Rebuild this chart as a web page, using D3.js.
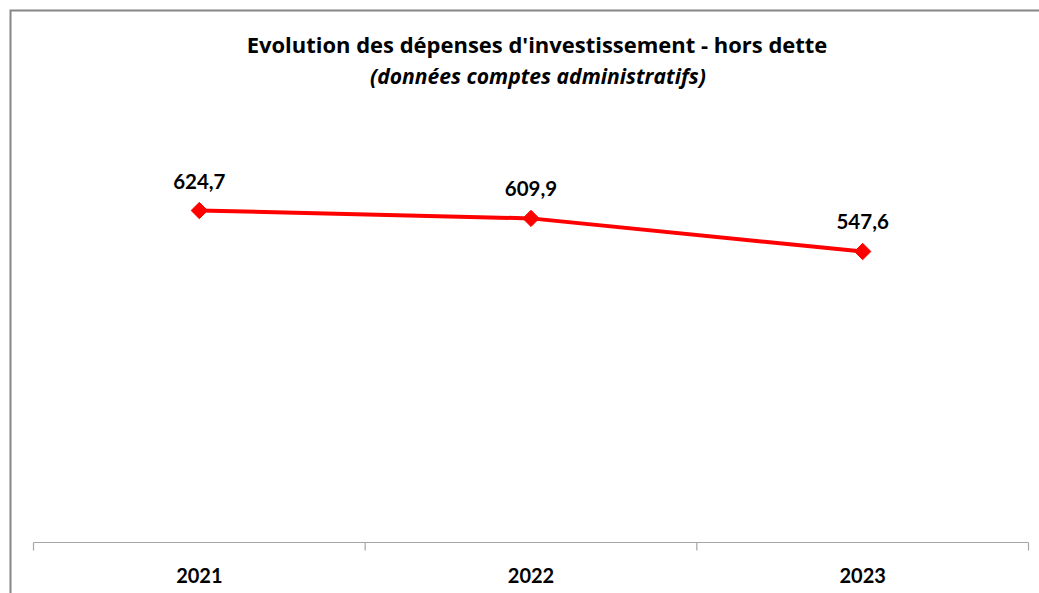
<!DOCTYPE html>
<html>
<head>
<meta charset="utf-8">
<script src="https://cdn.jsdelivr.net/npm/d3@7"></script>
<style>
  html, body { margin: 0; padding: 0; background: #fff; }
  svg { display: block; }
  text { font-family: Lato, "Open Sans", sans-serif; fill: #000; }
</style>
</head>
<body>
<svg id="chart" width="1039" height="593"></svg>
<script>
const categories = ["2021", "2022", "2023"];
const values = [624.7, 609.9, 547.6];
const valueLabels = ["624,7", "609,9", "547,6"];
const title = "Evolution des dépenses d'investissement - hors dette";
const subtitle = "(données comptes administratifs)";

const W = 1039, H = 593;
const svg = d3.select("#chart");

function fit(sel, target) {
  sel.each(function () {
    const fs = parseFloat(this.getAttribute("font-size"));
    const w = this.getComputedTextLength();
    if (w > 0) this.setAttribute("font-size", (fs * target / w).toFixed(2));
  });
}

// outer chart border (extends beyond the frame right and bottom)
svg.append("rect")
  .attr("x", 10.5).attr("y", 10.5)
  .attr("width", W + 20).attr("height", H + 20)
  .attr("fill", "#fff")
  .attr("stroke", "#868686").attr("stroke-width", 2);

const x = d3.scaleBand().domain(categories).range([33.5, 1028.5]);
const y = d3.scaleLinear().domain([0, 700]).range([542.5, 170.5]);

// title
svg.append("text")
  .attr("x", 537).attr("y", 53)
  .attr("text-anchor", "middle")
  .style("font-family", "'Open Sans', sans-serif")
  .attr("font-size", 20).attr("font-weight", "bold")
  .text(title)
  .call(fit, 581);
svg.append("text")
  .attr("x", 538).attr("y", 84)
  .attr("text-anchor", "middle")
  .style("font-family", "'Open Sans', sans-serif")
  .attr("font-size", 17).attr("font-weight", "bold").attr("font-style", "italic")
  .text(subtitle)
  .call(fit, 336);

// x axis
const xAxis = d3.axisBottom(x).tickSize(0).tickPadding(0);
const gx = svg.append("g").attr("transform", `translate(0,${y(0)})`);
gx.call(xAxis);
gx.select(".domain").remove();
gx.selectAll(".tick text").remove();
gx.append("line")
  .attr("x1", x.range()[0]).attr("x2", x.range()[1])
  .attr("y1", 0).attr("y2", 0)
  .attr("stroke", "#a6a6a6").attr("stroke-width", 1.2);
const bounds = categories.map(c => x(c)).concat([x(categories[categories.length - 1]) + x.bandwidth()]);
gx.selectAll("line.tk").data(bounds).enter().append("line")
  .attr("class", "tk")
  .attr("x1", d => d).attr("x2", d => d)
  .attr("y1", 0).attr("y2", 8)
  .attr("stroke", "#a6a6a6").attr("stroke-width", 1.2);
gx.selectAll("text.cat").data(categories).enter().append("text")
  .attr("class", "cat")
  .attr("x", d => x(d) + x.bandwidth() / 2)
  .attr("y", 40)
  .attr("text-anchor", "middle")
  .attr("font-size", 20).attr("font-weight", "bold")
  .text(d => d);

const data = categories.map((c, i) => ({ c, v: values[i], l: valueLabels[i] }));
const cx = d => x(d.c) + x.bandwidth() / 2;

// line
svg.append("path")
  .datum(data)
  .attr("fill", "none")
  .attr("stroke", "#ff0000")
  .attr("stroke-width", 4)
  .attr("stroke-linejoin", "round")
  .attr("d", d3.line().x(cx).y(d => y(d.v)));

// markers
svg.selectAll("path.mk").data(data).enter().append("path")
  .attr("class", "mk")
  .attr("transform", d => `translate(${cx(d)},${y(d.v)})`)
  .attr("d", d3.symbol(d3.symbolDiamond2, 170)())
  .attr("fill", "#ff0000")
  .attr("stroke", "#ff0000").attr("stroke-width", 1);

// value labels
svg.selectAll("text.val").data(data).enter().append("text")
  .attr("class", "val")
  .attr("x", cx)
  .attr("y", d => y(d.v) - 22)
  .attr("text-anchor", "middle")
  .attr("font-size", 20.5).attr("font-weight", "bold")
  .text(d => d.l);
</script>
</body>
</html>
